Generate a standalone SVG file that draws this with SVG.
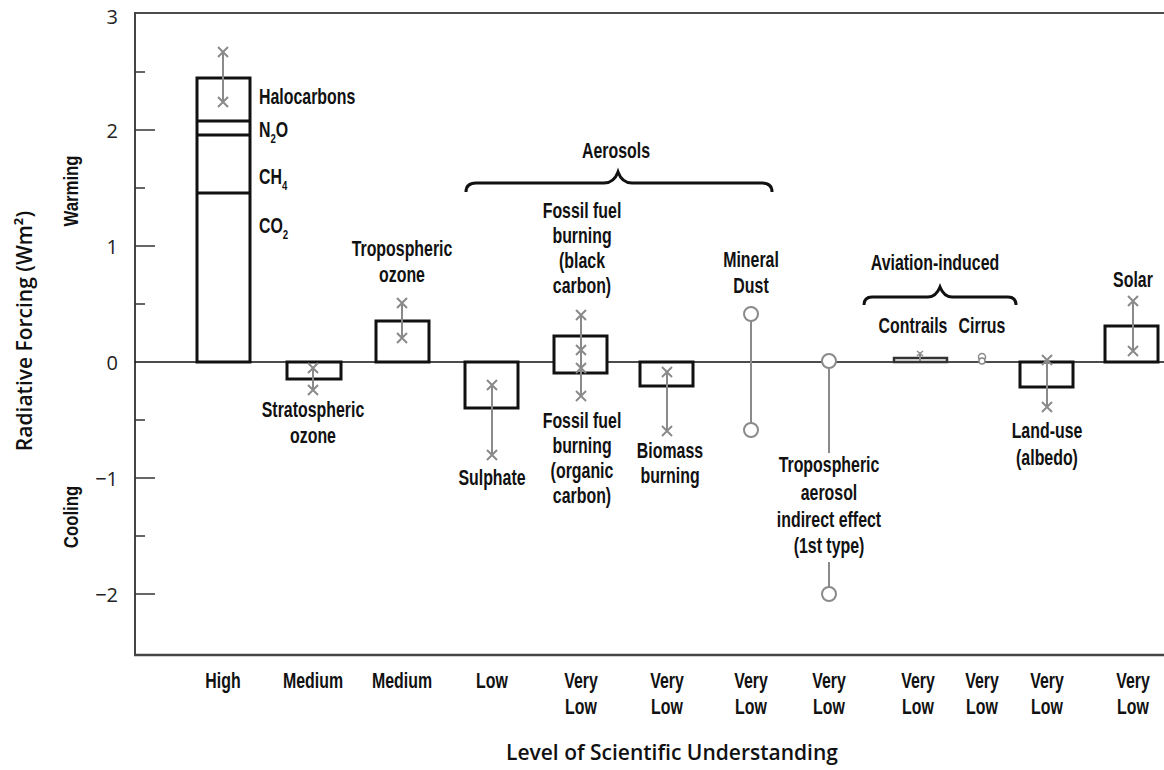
<svg xmlns="http://www.w3.org/2000/svg" width="1164" height="770" viewBox="0 0 1164 770">
<style>
.lbl{font-family:'Liberation Sans',Arial,sans-serif;font-weight:bold;font-size:21.5px;fill:#111;text-anchor:middle}
.lbl-l{text-anchor:start}
.tick{font-family:'Open Sans','Liberation Sans',sans-serif;font-size:20px;fill:#222;text-anchor:end}
.ax{font-family:'Open Sans','Liberation Sans',sans-serif;font-weight:600;font-size:21px;fill:#111;text-anchor:middle}
.bar{fill:#fff;stroke:#111;stroke-width:3}
.err{stroke:#8a8a8a;stroke-width:2;fill:none}
.circ{stroke:#8a8a8a;stroke-width:2;fill:#fff}
.brace{stroke:#111;stroke-width:3;fill:none}
.sub{font-size:13px}
</style>
<defs>
<path id="xm" d="M-5,-5L5,5M-5,5L5,-5" stroke="#8a8a8a" stroke-width="2" fill="none"/>
</defs>
<rect width="1164" height="770" fill="#fff"/>
<g id="axes">
<line x1="135" y1="13" x2="1164" y2="13" stroke="#111" stroke-width="1.5"/>
<line x1="135" y1="12" x2="135" y2="656" stroke="#444" stroke-width="2"/>
<line x1="134" y1="655" x2="1164" y2="655" stroke="#444" stroke-width="2.5"/>
<g stroke="#333" stroke-width="1.5">
<line x1="135" y1="72" x2="145" y2="72"/>
<line x1="135" y1="130" x2="155" y2="130"/>
<line x1="135" y1="188" x2="145" y2="188"/>
<line x1="135" y1="246" x2="155" y2="246"/>
<line x1="135" y1="304" x2="145" y2="304"/>
<line x1="135" y1="420" x2="145" y2="420"/>
<line x1="135" y1="478" x2="155" y2="478"/>
<line x1="135" y1="536" x2="145" y2="536"/>
<line x1="135" y1="594" x2="155" y2="594"/>
</g>
<text class="tick" x="118" y="24">3</text>
<text class="tick" x="118" y="138">2</text>
<text class="tick" x="118" y="254">1</text>
<text class="tick" x="118" y="370">0</text>
<text class="tick" x="118" y="486">−1</text>
<text class="tick" x="118" y="602">−2</text>
<text class="ax" transform="translate(32,331) rotate(-90)">Radiative Forcing (Wm²)</text>
<text class="lbl" transform="translate(78,191) rotate(-90) scale(.8,1)" style="font-size:21px">Warming</text>
<text class="lbl" transform="translate(78,517) rotate(-90) scale(.8,1)" style="font-size:21px">Cooling</text>
<text class="ax" x="672" y="760">Level of Scientific Understanding</text>
</g>
<g id="connectors">
<line x1="135" y1="362" x2="1164" y2="362" stroke="#111" stroke-width="1.5"/>
<path class="brace" d="M466,192 Q466,183 476,183 L604,183 Q614,183 618,172 Q622,183 632,183 L762,183 Q772,183 772,192"/>
<path class="brace" d="M864,305 Q864,297 872,297 L928,297 Q936,297 940,287 Q944,297 952,297 L1008,297 Q1016,297 1016,305"/>
</g>
<g id="ghg">
<rect class="bar" x="197" y="78" width="53" height="284"/>
<line x1="197" y1="121" x2="250" y2="121" stroke="#111" stroke-width="3"/>
<line x1="197" y1="135" x2="250" y2="135" stroke="#111" stroke-width="3"/>
<line x1="197" y1="193" x2="250" y2="193" stroke="#111" stroke-width="3"/>
<line class="err" x1="223" y1="52" x2="223" y2="102"/>
<use href="#xm" x="223" y="52"/><use href="#xm" x="223" y="102"/>
<text class="lbl lbl-l" transform="translate(259,104) scale(.74,1)">Halocarbons</text>
<text class="lbl lbl-l" transform="translate(259,137) scale(.74,1)">N<tspan class="sub" dy="6">2</tspan><tspan dy="-6">O</tspan></text>
<text class="lbl lbl-l" transform="translate(259,184) scale(.74,1)">CH<tspan class="sub" dy="6">4</tspan></text>
<text class="lbl lbl-l" transform="translate(259,233) scale(.74,1)">CO<tspan class="sub" dy="6">2</tspan></text>
<text class="lbl" transform="translate(223,688) scale(.74,1)">High</text>
</g>
<g id="strat-ozone">
<rect class="bar" x="287" y="362" width="54" height="17"/>
<line class="err" x1="313" y1="368" x2="313" y2="390"/>
<use href="#xm" x="313" y="368"/><use href="#xm" x="313" y="390"/>
<text class="lbl" transform="translate(313,417) scale(.74,1)">Stratospheric</text>
<text class="lbl" transform="translate(313,443) scale(.74,1)">ozone</text>
<text class="lbl" transform="translate(313,688) scale(.74,1)">Medium</text>
</g>
<g id="trop-ozone">
<rect class="bar" x="376" y="321" width="53" height="41"/>
<line class="err" x1="402" y1="303" x2="402" y2="338"/>
<use href="#xm" x="402" y="303"/><use href="#xm" x="402" y="338"/>
<text class="lbl" transform="translate(402,256) scale(.74,1)">Tropospheric</text>
<text class="lbl" transform="translate(402,282) scale(.74,1)">ozone</text>
<text class="lbl" transform="translate(402,688) scale(.74,1)">Medium</text>
</g>
<g id="sulphate">
<rect class="bar" x="465" y="362" width="53" height="46"/>
<line class="err" x1="492" y1="385" x2="492" y2="455"/>
<use href="#xm" x="492" y="385"/><use href="#xm" x="492" y="455"/>
<text class="lbl" transform="translate(492,485) scale(.74,1)">Sulphate</text>
<text class="lbl" transform="translate(492,688) scale(.74,1)">Low</text>
</g>
<g id="fossil-fuel">
<rect class="bar" x="554" y="336" width="53" height="37"/>
<line class="err" x1="581" y1="315" x2="581" y2="396"/>
<use href="#xm" x="581" y="315"/><use href="#xm" x="581" y="350"/><use href="#xm" x="581" y="368"/><use href="#xm" x="581" y="396"/>
<text class="lbl" transform="translate(582,218) scale(.74,1)">Fossil fuel</text>
<text class="lbl" transform="translate(582,243) scale(.74,1)">burning</text>
<text class="lbl" transform="translate(582,268) scale(.74,1)">(black</text>
<text class="lbl" transform="translate(582,293) scale(.74,1)">carbon)</text>
<text class="lbl" transform="translate(582,428) scale(.74,1)">Fossil fuel</text>
<text class="lbl" transform="translate(582,453) scale(.74,1)">burning</text>
<text class="lbl" transform="translate(582,478) scale(.74,1)">(organic</text>
<text class="lbl" transform="translate(582,503) scale(.74,1)">carbon)</text>
<text class="lbl" transform="translate(581,688) scale(.74,1)">Very</text>
<text class="lbl" transform="translate(581,714) scale(.74,1)">Low</text>
</g>
<g id="biomass">
<rect class="bar" x="640" y="362" width="53" height="24"/>
<line class="err" x1="667" y1="372" x2="667" y2="431"/>
<use href="#xm" x="667" y="372"/><use href="#xm" x="667" y="431"/>
<text class="lbl" transform="translate(670,458) scale(.74,1)">Biomass</text>
<text class="lbl" transform="translate(670,483) scale(.74,1)">burning</text>
<text class="lbl" transform="translate(667,688) scale(.74,1)">Very</text>
<text class="lbl" transform="translate(667,714) scale(.74,1)">Low</text>
</g>
<g id="mineral-dust">
<line class="err" x1="751" y1="314" x2="751" y2="430"/>
<circle class="circ" cx="751" cy="314" r="7"/>
<circle class="circ" cx="751" cy="430" r="7"/>
<text class="lbl" transform="translate(751,267) scale(.74,1)">Mineral</text>
<text class="lbl" transform="translate(751,293) scale(.74,1)">Dust</text>
<text class="lbl" transform="translate(751,688) scale(.74,1)">Very</text>
<text class="lbl" transform="translate(751,714) scale(.74,1)">Low</text>
</g>
<g id="indirect-effect">
<line class="err" x1="829" y1="369" x2="829" y2="453"/>
<line class="err" x1="829" y1="562" x2="829" y2="587"/>
<circle class="circ" cx="829" cy="361" r="7"/>
<circle class="circ" cx="829" cy="594" r="7"/>
<text class="lbl" transform="translate(829,472) scale(.74,1)">Tropospheric</text>
<text class="lbl" transform="translate(829,500) scale(.74,1)">aerosol</text>
<text class="lbl" transform="translate(829,527) scale(.74,1)">indirect effect</text>
<text class="lbl" transform="translate(829,553) scale(.74,1)">(1st type)</text>
<text class="lbl" transform="translate(829,688) scale(.74,1)">Very</text>
<text class="lbl" transform="translate(829,714) scale(.74,1)">Low</text>
</g>
<g id="aviation">
<text class="lbl" transform="translate(935,270) scale(.74,1)">Aviation-induced</text>
</g>
<g id="contrails">
<rect x="894" y="358" width="53" height="4" fill="#fff" stroke="#333" stroke-width="2.5"/>
<line class="err" x1="920" y1="353" x2="920" y2="361"/>
<path d="M917,351L923,356M917,356L923,351" stroke="#8a8a8a" stroke-width="1.5"/>
<text class="lbl" transform="translate(913,333) scale(.74,1)">Contrails</text>
<text class="lbl" transform="translate(918,688) scale(.74,1)">Very</text>
<text class="lbl" transform="translate(918,714) scale(.74,1)">Low</text>
</g>
<g id="cirrus">
<circle cx="982" cy="357" r="3.5" fill="#fff" stroke="#8a8a8a" stroke-width="1.5"/>
<circle cx="982" cy="361" r="3" fill="#fff" stroke="#8a8a8a" stroke-width="1.5"/>
<text class="lbl" transform="translate(982,333) scale(.74,1)">Cirrus</text>
<text class="lbl" transform="translate(982,688) scale(.74,1)">Very</text>
<text class="lbl" transform="translate(982,714) scale(.74,1)">Low</text>
</g>
<g id="land-use">
<rect class="bar" x="1020" y="362" width="53" height="25"/>
<line class="err" x1="1047" y1="360" x2="1047" y2="407"/>
<use href="#xm" x="1047" y="360"/><use href="#xm" x="1047" y="407"/>
<text class="lbl" transform="translate(1047,438) scale(.74,1)">Land-use</text>
<text class="lbl" transform="translate(1047,465) scale(.74,1)">(albedo)</text>
<text class="lbl" transform="translate(1047,688) scale(.74,1)">Very</text>
<text class="lbl" transform="translate(1047,714) scale(.74,1)">Low</text>
</g>
<g id="solar">
<rect class="bar" x="1105" y="326" width="53" height="36"/>
<line class="err" x1="1133" y1="301" x2="1133" y2="351"/>
<use href="#xm" x="1133" y="301"/><use href="#xm" x="1133" y="351"/>
<text class="lbl" transform="translate(1133,287) scale(.74,1)">Solar</text>
<text class="lbl" transform="translate(1133,688) scale(.74,1)">Very</text>
<text class="lbl" transform="translate(1133,714) scale(.74,1)">Low</text>
</g>
<g id="aerosols">
<text class="lbl" transform="translate(616,158) scale(.74,1)">Aerosols</text>
</g>
</svg>
